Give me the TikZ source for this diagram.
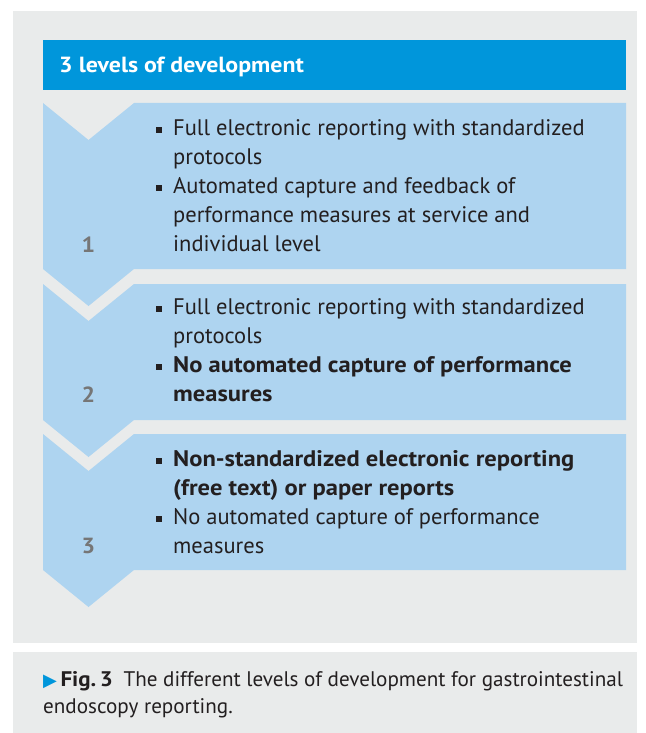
\documentclass[tikz,border=0pt]{standalone}
\usepackage{fontspec}
\setmainfont{PT Sans}[BoldFeatures={FakeStretch=1.09}]
\newfontfamily\symfont{DejaVu Sans}
\definecolor{panelgray}{RGB}{233,235,235}
\definecolor{headblue}{RGB}{0,150,219}
\definecolor{levelblue}{RGB}{174,212,240}
\definecolor{numgray}{RGB}{118,118,118}
\definecolor{textblack}{RGB}{35,31,32}
\newcommand{\sqbullet}{\llap{\rule[2.5bp]{6bp}{6bp}\hspace{11bp}}}

\begin{document}
\begin{tikzpicture}[x=1bp,y=-1bp,
        panel/.style={fill=panelgray},
        level/.style={fill=levelblue},
        head/.style={anchor=base west,inner sep=0pt,text=white,font=\bfseries\fontsize{22}{26}\selectfont},
        items/.style={anchor=base west,align=left,inner sep=0pt,text=textblack,font=\fontsize{22.6}{29}\selectfont},
        num/.style={anchor=base,inner sep=0pt,text=numgray,font=\bfseries\fontsize{22}{29}\selectfont},
        caption/.style={anchor=base west,align=left,inner sep=0pt,text=textblack,font=\fontsize{21.2}{27}\selectfont}
        ]
        \useasboundingbox (0,0) rectangle (646,733);
        % background panels
        \fill[panel] (13,11) rectangle (637,643);
        \fill[panel] (13,652) rectangle (637,733);
        \fill[headblue] (43,40) rectangle (626,90);
        % the three levels
        \fill[level] (43,103) -- (88.5,140) -- (134,103) -- (626,103) -- (626,269)
            -- (134,269) -- (88.5,306) -- (43,269) -- cycle;
        \fill[level] (43,284) -- (88.5,321) -- (134,284) -- (626,284) -- (626,420)
            -- (134,420) -- (88.5,457) -- (43,420) -- cycle;
        \fill[level] (43,434) -- (88.5,471) -- (134,434) -- (626,434) -- (626,570)
            -- (134,570) -- (88.5,607) -- (43,570) -- cycle;
        \node (title) [head] at (59,73) {3 levels of development};
        \node (n1) [num] at (88.5,252) {1};
        \node (n2) [num] at (88.5,402) {2};
        \node (n3) [num] at (88.5,553) {3};
        % multi-line nodes sit on their last line
        \node (l1) [items] at (173,251) {\sqbullet Full electronic reporting with standardized\\
            protocols\\
            \sqbullet Automated capture and feedback of\\
            performance measures at service and\\
            individual level};
        \node (l2) [items] at (173,401) {\sqbullet Full electronic reporting with standardized\\
            protocols\\
            \sqbullet\textbf{No automated capture of performance}\\
            \textbf{measures}};
        \node (l3) [items] at (173,553) {\sqbullet\textbf{Non-standardized electronic reporting}\\
            \textbf{(free text) or paper reports}\\
            \sqbullet No automated capture of performance\\
            measures};
        \node (cap) [caption] at (43,713) {{\symfont\fontsize{18}{27}\selectfont\color{headblue}▶}\,\textbf{Fig.\,3}\enspace The different levels of development for gastrointestinal\\
            endoscopy reporting.};
\end{tikzpicture}
\end{document}
